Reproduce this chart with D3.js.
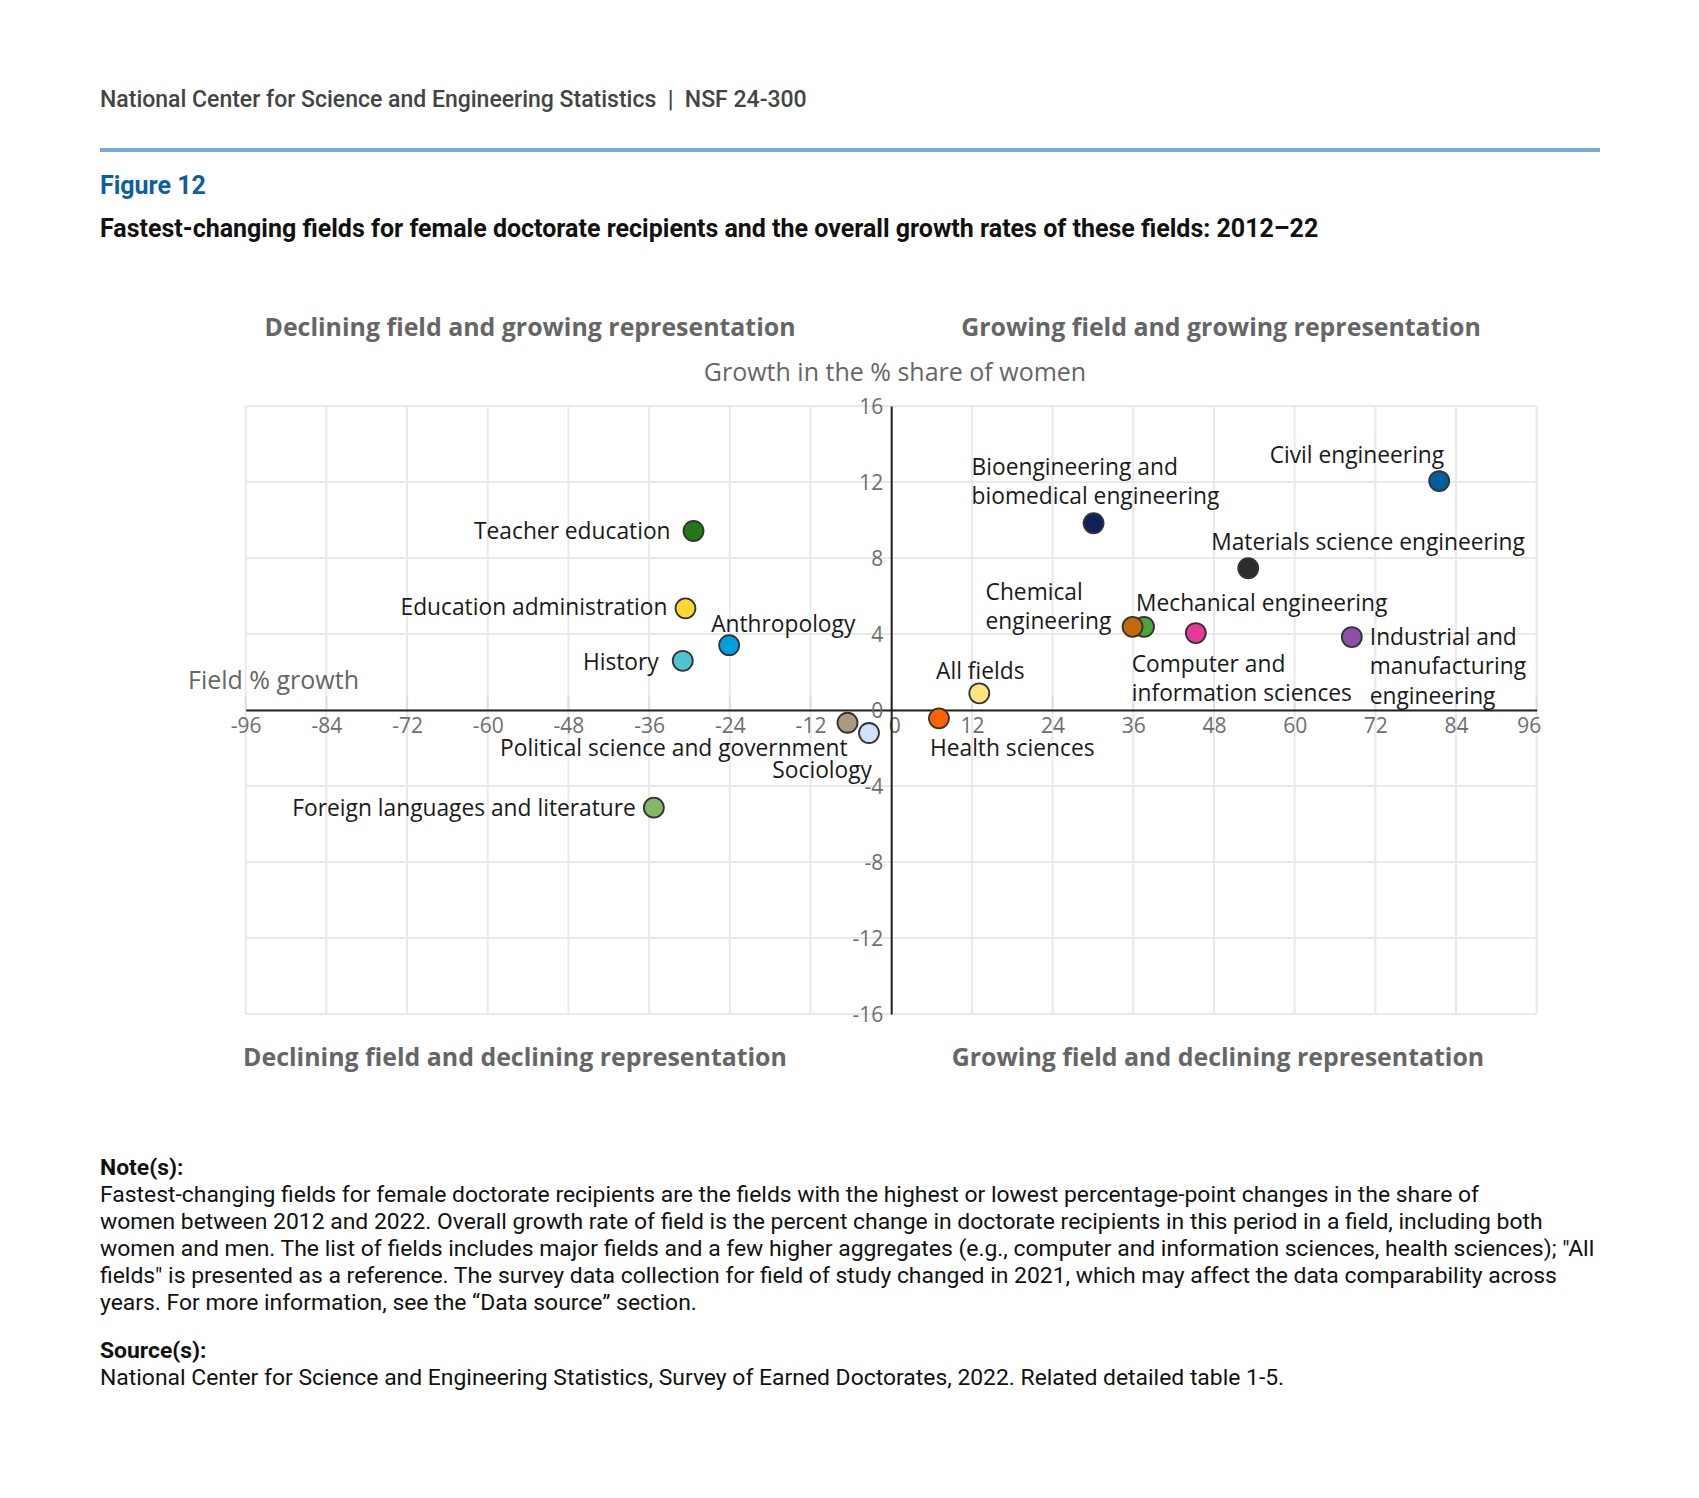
<!DOCTYPE html>
<html>
<head>
<meta charset="utf-8">
<script src="https://cdn.jsdelivr.net/npm/d3@7"></script>
<style>
  html, body { margin: 0; padding: 0; background: #fff; }
  svg { display: block; }
</style>
</head>
<body>
<div id="chart"></div>
<script>
// ---------- DATA ----------
const fields = [
  "Teacher education",
  "Education administration",
  "Anthropology",
  "History",
  "Political science and government",
  "Sociology",
  "Foreign languages and literature",
  "Civil engineering",
  "Bioengineering and biomedical engineering",
  "Materials science engineering",
  "Mechanical engineering",
  "Chemical engineering",
  "Computer and information sciences",
  "Industrial and manufacturing engineering",
  "All fields",
  "Health sciences"
];
// Field % growth (x)
const fieldGrowth = [-29.4, -30.6, -24.1, -31.0, -6.5, -3.3, -35.3, 81.5, 30.1, 53.1, 37.6, 35.9, 45.3, 68.5, 13.1, 7.1];
// Growth in the % share of women (y)
const shareGrowth = [9.42, 5.35, 3.41, 2.59, -0.67, -1.21, -5.14, 12.05, 9.83, 7.46, 4.38, 4.38, 4.05, 3.84, 0.88, -0.44];
// Displayed label lines
const labelLines = [
  ["Teacher education"],
  ["Education administration"],
  ["Anthropology"],
  ["History"],
  ["Political science and government"],
  ["Sociology"],
  ["Foreign languages and literature"],
  ["Civil engineering"],
  ["Bioengineering and", "biomedical engineering"],
  ["Materials science engineering"],
  ["Mechanical engineering"],
  ["Chemical", "engineering"],
  ["Computer and", "information sciences"],
  ["Industrial and", "manufacturing", "engineering"],
  ["All fields"],
  ["Health sciences"]
];
const markerColors = ["#217a17", "#fcd733", "#00a0dc", "#4fc3d3", "#aa9a7f", "#cfe2fb", "#82b866",
  "#005ea2", "#10205a", "#2d2d2d", "#4ca53a", "#c3680b", "#e8399b", "#8e4fa8", "#fde47f", "#ff6300"];
const xTicks = [-96, -84, -72, -60, -48, -36, -24, -12, 0, 12, 24, 36, 48, 60, 72, 84, 96];
const yTicks = [-16, -12, -8, -4, 0, 4, 8, 12, 16];

const quadrantTitles = [
  "Declining field and growing representation",
  "Growing field and growing representation",
  "Declining field and declining representation",
  "Growing field and declining representation"
];
const noteLines = [
  "Fastest-changing fields for female doctorate recipients are the fields with the highest or lowest percentage-point changes in the share of",
  "women between 2012 and 2022. Overall growth rate of field is the percent change in doctorate recipients in this period in a field, including both",
  "women and men. The list of fields includes major fields and a few higher aggregates (e.g., computer and information sciences, health sciences); \"All",
  "fields\" is presented as a reference. The survey data collection for field of study changed in 2021, which may affect the data comparability across",
  "years. For more information, see the \u201cData source\u201d section."
];
const sourceLine = "National Center for Science and Engineering Statistics, Survey of Earned Doctorates, 2022. Related detailed table 1-5.";

// ---------- LAYOUT (label placement relative to marker: anchor, dx, dy of first line) ----------
const labelPlacement = [
  ["end", -23, 0], ["end", -18, -1], ["start", -18, -21], ["end", -24, 1],
  ["end", 0, 25], ["end", 3, 37], ["end", -18, 0], ["end", 5, -26],
  ["start", -122, -56], ["start", -37, -26], ["start", -8, -24], ["start", -147, -35],
  ["start", -64, 31], ["start", 18, 0], ["middle", 1, -22], ["start", -9, 30]
];
const drawOrder = [0,1,2,3,4,5,6,7,8,9,10,11,12,13,14,15];

const W = 1699, H = 1498;
const svg = d3.select("#chart").append("svg").attr("width", W).attr("height", H);
svg.append("rect").attr("width", W).attr("height", H).attr("fill", "#fff");

const roboto = "Roboto, 'Liberation Sans', Arial, sans-serif";
const openSans = "'Open Sans', 'Noto Sans', sans-serif";

// Header
svg.append("text").attr("x", 100).attr("y", 107)
  .attr("font-family", roboto).attr("font-weight", 500).attr("font-size", 23).attr("fill", "#444")
  .attr("xml:space", "preserve").style("white-space", "pre")
  .text("National Center for Science and Engineering Statistics  |  NSF 24-300");
svg.append("line").attr("x1", 100).attr("x2", 1600).attr("y1", 150).attr("y2", 150)
  .attr("stroke", "#79a9df").attr("stroke-width", 4);
svg.append("text").attr("x", 100).attr("y", 194)
  .attr("font-family", roboto).attr("font-weight", 700).attr("font-size", 25).attr("fill", "#0b5fa5")
  .text("Figure 12");
svg.append("text").attr("x", 100).attr("y", 237)
  .attr("font-family", roboto).attr("font-weight", 700).attr("font-size", 25).attr("fill", "#111")
  .text("Fastest-changing fields for female doctorate recipients and the overall growth rates of these fields: 2012\u201322");

// Scales
const x = d3.scaleLinear().domain([-96, 96]).range([245.7, 1536.7]);
const y = d3.scaleLinear().domain([-16, 16]).range([1014, 406]);

const plot = svg.append("g");

// Gridlines
plot.append("g").selectAll("line").data(xTicks).join("line")
  .attr("x1", d => x(d)).attr("x2", d => x(d)).attr("y1", y(16)).attr("y2", y(-16))
  .attr("stroke", "#e9e9e9").attr("stroke-width", 2);
plot.append("g").selectAll("line").data(yTicks).join("line")
  .attr("x1", x(-96)).attr("x2", x(96)).attr("y1", d => y(d)).attr("y2", d => y(d))
  .attr("stroke", "#e9e9e9").attr("stroke-width", 2);

// small pale ticks above the zero line
plot.append("g").selectAll("line").data(xTicks).join("line")
  .attr("x1", d => x(d)).attr("x2", d => x(d)).attr("y1", y(0) - 14).attr("y2", y(0))
  .attr("stroke", "#d5e0f1").attr("stroke-width", 2);

// Axes through the origin
const fmt = d => d < 0 ? "-" + Math.abs(d) : String(d);
const xAxis = d3.axisBottom(x).tickValues(xTicks).tickSize(0).tickPadding(0);
const gx = plot.append("g").attr("transform", `translate(0,${y(0)})`).call(xAxis);
gx.select(".domain").attr("stroke", "#222").attr("stroke-width", 2);
gx.selectAll(".tick text")
  .attr("font-family", openSans).attr("font-size", 21).attr("fill", "#6e6e6e")
  .attr("y", 16).attr("dy", "0.35em").text(fmt)
  .attr("text-anchor", d => d === 96 ? "end" : "middle")
  .attr("x", d => d === 96 ? 4 : (d === 0 ? 3 : 0));

const yAxis = d3.axisLeft(y).tickValues(yTicks).tickSize(0).tickPadding(0);
const gy = plot.append("g").attr("transform", `translate(${x(0)},0)`).call(yAxis);
gy.select(".domain").attr("stroke", "#222").attr("stroke-width", 2);
gy.selectAll(".tick text")
  .attr("font-family", openSans).attr("font-size", 21).attr("fill", "#6e6e6e")
  .attr("x", -8).attr("dy", "0.35em").text(fmt);

// Axis titles
svg.append("text").attr("x", 895).attr("y", 372).attr("text-anchor", "middle").attr("dy", "0.35em")
  .attr("font-family", openSans).attr("font-size", 25).attr("fill", "#666")
  .text("Growth in the % share of women");
svg.append("text").attr("x", 188).attr("y", 680).attr("dy", "0.35em")
  .attr("font-family", openSans).attr("font-size", 25).attr("fill", "#666")
  .text("Field % growth");

// Quadrant titles
const qPos = [[530, 327], [1221, 327], [515, 1057], [1218, 1057]];
svg.append("g").selectAll("text").data(quadrantTitles).join("text")
  .attr("x", (d, i) => qPos[i][0]).attr("y", (d, i) => qPos[i][1])
  .attr("text-anchor", "middle").attr("dy", "0.35em")
  .attr("font-family", openSans).attr("font-weight", 700).attr("font-size", 24.9).attr("fill", "#666")
  .text(d => d);

// Points
const pts = drawOrder.map(i => ({i, fx: fieldGrowth[i], fy: shareGrowth[i]}));
plot.append("g").selectAll("circle").data(pts).join("circle")
  .attr("cx", d => x(d.fx)).attr("cy", d => y(d.fy)).attr("r", 10)
  .attr("fill", d => markerColors[d.i]).attr("stroke", "#333").attr("stroke-width", 1.8);

// Labels
const lineH = 29.3;
const lab = plot.append("g").selectAll("text").data(pts).join("text")
  .attr("font-family", openSans).attr("font-size", 22.75).attr("fill", "#1a1a1a")
  .attr("text-anchor", d => labelPlacement[d.i][0]);
lab.each(function(d) {
  const [anchor, dx, dy] = labelPlacement[d.i];
  const t = d3.select(this);
  labelLines[d.i].forEach((ln, k) => {
    t.append("tspan").attr("x", x(d.fx) + dx).attr("y", y(d.fy) + dy + k * lineH)
      .attr("dy", "0.35em").text(ln);
  });
});

// Notes
const notes = svg.append("g").attr("font-family", roboto).attr("fill", "#111");
notes.append("text").attr("x", 100).attr("y", 1167).attr("dy", "0.35em")
  .attr("font-size", 22.9).attr("font-weight", 700).text("Note(s):");
notes.append("g").selectAll("text").data(noteLines).join("text")
  .attr("x", 100).attr("y", (d, i) => 1193.5 + i * 27.1).attr("dy", "0.35em")
  .attr("font-size", 22.9).text(d => d);
notes.append("text").attr("x", 100).attr("y", 1350).attr("dy", "0.35em")
  .attr("font-size", 22.9).attr("font-weight", 700).text("Source(s):");
notes.append("text").attr("x", 100).attr("y", 1377).attr("dy", "0.35em")
  .attr("font-size", 22.9).text(sourceLine);
</script>
</body>
</html>
